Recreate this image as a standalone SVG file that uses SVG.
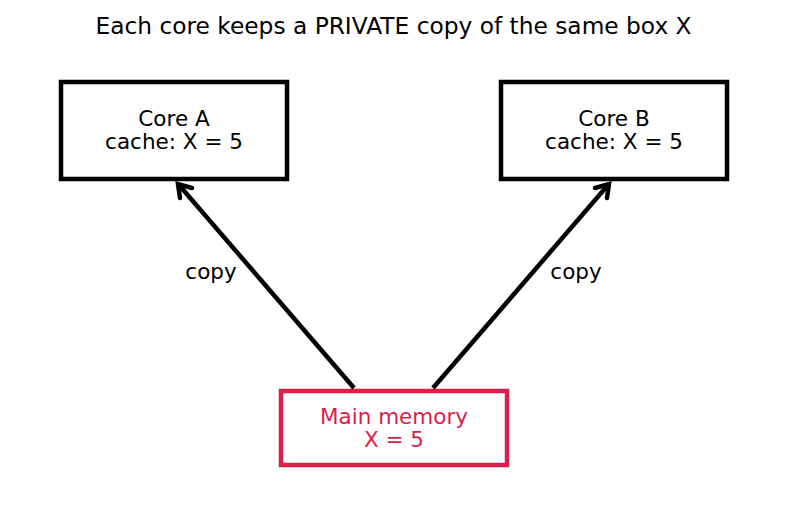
<svg xmlns="http://www.w3.org/2000/svg" width="787" height="510" viewBox="0 0 787 510">
<style>
text{font-family:"DejaVu Sans","Liberation Sans",sans-serif;text-anchor:middle}
.t{font-size:23.3px;fill:#000}
.n{font-size:21.5px;fill:#000}
.box{fill:#fff;stroke:#000;stroke-width:4.5}
.mem{fill:#fff;stroke:#dc1e4a;stroke-width:4.5}
.m{fill:#dc1e4a}
.c{stroke:#000;stroke-width:4.5;fill:none;stroke-linecap:butt}
.h{stroke:#000;stroke-width:4.5;fill:none;stroke-linecap:round;stroke-linejoin:miter}
</style>
<rect width="787" height="510" fill="#fff"/>
<text class="t" x="393.5" y="33.5">Each core keeps a PRIVATE copy of the same box X</text>
<g id="coreA">
<rect class="box" x="61" y="82" width="226" height="97"/>
<text class="n" x="174" y="125.5">Core A</text>
<text class="n" x="174" y="148.5">cache: X = 5</text>
</g>
<g id="coreB">
<rect class="box" x="501" y="82" width="226" height="97"/>
<text class="n" x="614" y="125.5">Core B</text>
<text class="n" x="614" y="148.5">cache: X = 5</text>
</g>
<g id="mem">
<rect class="mem" x="281" y="391" width="226" height="74"/>
<text class="n m" x="394" y="424">Main memory</text>
<text class="n m" x="394" y="447">X = 5</text>
</g>
<g id="connectors">
<line class="c" x1="354" y1="388" x2="179" y2="185"/>
<polyline class="h" points="180,198 178,184 192,188"/>
<line class="c" x1="433" y1="388" x2="608" y2="185"/>
<polyline class="h" points="607,198 609,184 595,188"/>
<text class="n" x="211" y="278.5">copy</text>
<text class="n" x="576" y="278.5">copy</text>
</g>
</svg>
